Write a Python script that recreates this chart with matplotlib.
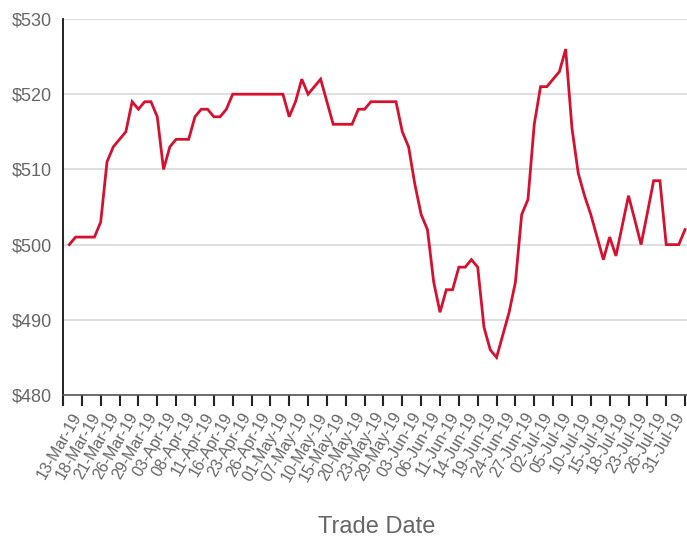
import matplotlib
matplotlib.use("Agg")
import matplotlib.pyplot as plt
import pandas as pd

# UK trading days, 11-Mar-19 .. 31-Jul-19 (bank holidays excluded)
HOLIDAYS = ["2019-04-19", "2019-04-22", "2019-05-06", "2019-05-27"]
trade_dates = pd.bdate_range("2019-03-11", "2019-07-31", freq="C", holidays=HOLIDAYS)
date_labels = [d.strftime("%d-%b-%y") for d in trade_dates]

prices = [
    500, 501, 501, 501, 501, 503, 511, 513, 514, 515,
    519, 518, 519, 519, 517, 510, 513, 514, 514, 514,
    517, 518, 518, 517, 517, 518, 520, 520, 520, 520,
    520, 520, 520, 520, 520, 517, 519, 522, 520, 521,
    522, 519, 516, 516, 516, 516, 518, 518, 519, 519,
    519, 519, 519, 515, 513, 508, 504, 502, 495, 491,
    494, 494, 497, 497, 498, 497, 489, 486, 485, 488,
    491, 495, 504, 506, 516, 521, 521, 522, 523, 526,
    515.5, 509.5, 506.5, 504, 501, 498, 501, 498.5, 502.5, 506.5,
    503.3, 500, 504.2, 508.5, 508.5, 500, 500, 500, 502,
]

y_ticks = [480, 490, 500, 510, 520, 530]
label_every = 3
first_label = 2

W, H = 687, 543
fig = plt.figure(figsize=(W / 100, H / 100), dpi=100)
plt.rcParams["font.family"] = ["Liberation Sans", "DejaVu Sans"]

ax = fig.add_axes([63.3 / W, (H - 395) / H, (W - 63.3) / W, (395 - 19) / H])

xs = list(range(len(prices)))
ax.plot(xs, prices, color="#d6112f", lw=2.0, solid_joinstyle="miter", zorder=3)

ax.set_ylim(480, 530)
ax.set_xlim(-0.955, 98.31)

ax.set_yticks(y_ticks)
ax.set_yticklabels([f"${v}" for v in y_ticks])
ax.yaxis.grid(True, color="#d9d9d9", lw=1.2)
ax.set_axisbelow(True)
ax.tick_params(axis="y", length=0, pad=8, labelsize=13, labelcolor="#666666")

tick_pos = list(range(first_label, len(prices), label_every))
ax.set_xticks(tick_pos)
ax.set_xticklabels([date_labels[i] for i in tick_pos], rotation=60,
                   ha="right", va="baseline", rotation_mode="anchor")
ax.set_xticks([-0.955], minor=True)
ax.tick_params(axis="x", which="both", length=8, width=1.5, color="#222222",
               pad=7, labelsize=11.5, labelcolor="#666666")

for side in ["top", "right"]:
    ax.spines[side].set_visible(False)
ax.spines["left"].set_color("#111111")
ax.spines["left"].set_linewidth(1.3)
ax.spines["bottom"].set_color("#555555")
ax.spines["bottom"].set_linewidth(1.2)

fig.text(377 / W, (H - 527) / H, "Trade Date", ha="center", va="center",
         fontsize=17, color="#666666")

fig.savefig("out.png", dpi=100)
